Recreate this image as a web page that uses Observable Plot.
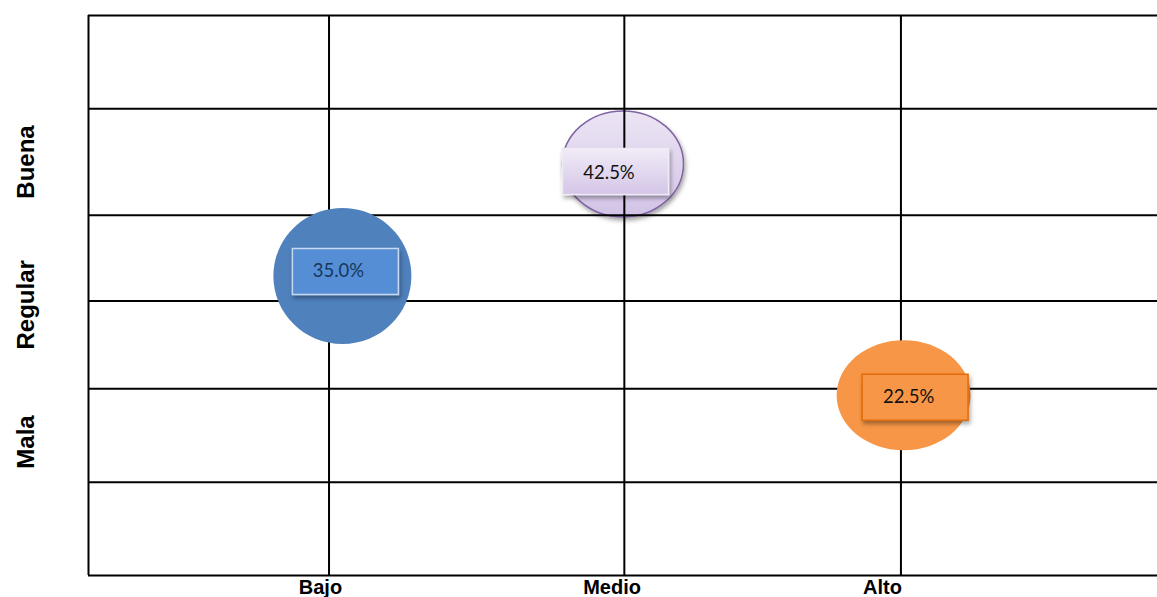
<!DOCTYPE html>
<html>
<head>
<meta charset="utf-8">
<script src="https://cdn.jsdelivr.net/npm/d3@7"></script>
<script src="https://cdn.jsdelivr.net/npm/@observablehq/plot@0.6"></script>
<style>
  html, body { margin: 0; padding: 0; background: #fff; }
  #chart svg { display: block; }
</style>
</head>
<body>
<div id="chart"></div>
<script>
// ---- data (chart units) ----
const categories = ["Bajo", "Medio", "Alto"];
const categoryLineX = [0.9, 2.005, 3.04];      // column lines
const categoryLabelX = [0.868, 1.959, 2.971];  // label centres
const ratings = ["Buena", "Regular", "Mala"];
const ratingLabelY = [4.43, 2.9, 1.43];
const gridY = [0, 1, 2, 2.94, 3.86, 5, 6];
const gridX = [0, ...categoryLineX];

const bubbleCategory = ["Medio", "Bajo", "Alto"];
const bubbleRating = ["Buena", "Regular", "Mala"];
const bubbleX = [2.0, 0.95, 3.05];
const bubbleY = [4.41, 3.21, 1.93];
const bubblePct = [42.5, 35.0, 22.5];

// ---- styles ----
const bubbleStyle = [
  {rx: 60.5, ry: 53, fill: "url(#purpleFill)", stroke: "#8064a2", boxFill: "url(#purpleBox)", boxStroke: "#efeaf5",
   text: "#111", boxDx: -7.5, boxDy: 7.5, textDx: -14, textDy: 9, under: true, shadow: true},
  {rx: 69, ry: 68, fill: "#4f81bd", stroke: "none", boxFill: "#558ed5", boxStroke: "#c6d9f1",
   text: "#17375e", boxDx: 3, boxDy: -4.5, textDx: -4, textDy: -4.5, under: false, shadow: false},
  {rx: 67, ry: 55, fill: "#f79646", stroke: "none", boxFill: "#f79646", boxStroke: "#e46c0a",
   text: "#111", boxDx: 11.5, boxDy: 2, textDx: 5, textDy: 2, under: false, shadow: false}
];

const bubbles = bubbleCategory.map((c, i) => ({
  category: c, rating: bubbleRating[i], x: bubbleX[i], y: bubbleY[i], pct: bubblePct[i]
}));

function ellipseSymbol(rx, ry) {
  const k = 0.5522848;
  return {
    draw(ctx) {
      ctx.moveTo(rx, 0);
      ctx.bezierCurveTo(rx, ry * k, rx * k, ry, 0, ry);
      ctx.bezierCurveTo(-rx * k, ry, -rx, ry * k, -rx, 0);
      ctx.bezierCurveTo(-rx, -ry * k, -rx * k, -ry, 0, -ry);
      ctx.bezierCurveTo(rx * k, -ry, rx, -ry * k, rx, 0);
      ctx.closePath();
    }
  };
}
function rectSymbol(w, h) {
  return {
    draw(ctx) {
      ctx.moveTo(-w / 2, -h / 2);
      ctx.lineTo(w / 2, -h / 2);
      ctx.lineTo(w / 2, h / 2);
      ctx.lineTo(-w / 2, h / 2);
      ctx.closePath();
    }
  };
}

const bubbleMark = (i) => Plot.dot([bubbles[i]], {
  x: "x", y: "y", r: bubbleStyle[i].rx,
  symbol: ellipseSymbol(bubbleStyle[i].rx, bubbleStyle[i].ry),
  fill: bubbleStyle[i].fill, stroke: bubbleStyle[i].stroke, strokeWidth: 1.5,
  ariaDescription: "bubble-" + i
});
const boxMark = (i) => Plot.dot([bubbles[i]], {
  x: "x", y: "y", r: 50,
  symbol: rectSymbol(106, 46),
  dx: bubbleStyle[i].boxDx, dy: bubbleStyle[i].boxDy,
  fill: bubbleStyle[i].boxFill, stroke: bubbleStyle[i].boxStroke, strokeWidth: 1.5,
  ariaDescription: "box-" + i
});
const labelMark = (i) => Plot.text([bubbles[i]], {
  x: "x", y: "y", text: d => d.pct.toFixed(1) + "%",
  dx: bubbleStyle[i].textDx, dy: bubbleStyle[i].textDy,
  fill: bubbleStyle[i].text, fontSize: 18.5, fontFamily: "Lato, 'Open Sans', sans-serif"
});

const idx = bubbles.map((_, i) => i);

const chart = Plot.plot({
  width: 1157,
  height: 597,
  marginLeft: 88,
  marginRight: 0,
  marginTop: 15,
  marginBottom: 22,
  x: {domain: [0, 4], axis: null},
  y: {domain: [0, 6], axis: null},
  style: {background: "#fff", overflow: "visible", fontFamily: "'Liberation Sans', Arial, sans-serif"},
  marks: [
    ...idx.filter(i => bubbleStyle[i].under).map(bubbleMark),
    Plot.ruleX(gridX, {x: d => d, y1: 0, y2: 6, stroke: "#000", strokeWidth: 2}),
    Plot.ruleY(gridY, {y: d => d, x1: 0, x2: 4, stroke: "#000", strokeWidth: 2}),
    ...idx.filter(i => !bubbleStyle[i].under).map(bubbleMark),
    ...idx.map(boxMark),
    ...idx.map(labelMark),
    Plot.text(categories, {
      x: (d, i) => categoryLabelX[i], frameAnchor: "bottom", text: d => d,
      lineAnchor: "bottom", dy: 18, fontSize: 20, fontWeight: "bold", fill: "#000"
    }),
    Plot.text(ratings, {
      y: (d, i) => ratingLabelY[i], frameAnchor: "left", textAnchor: "middle", text: d => d,
      rotate: -90, lineAnchor: "bottom", dx: -55, fontSize: 24, fontWeight: "bold", fill: "#000"
    })
  ]
});

const svg = d3.select(chart);
const defs = svg.insert("defs", ":first-child");
const g1 = defs.append("linearGradient").attr("id", "purpleFill").attr("x1", 0).attr("y1", 0).attr("x2", 0).attr("y2", 1);
g1.append("stop").attr("offset", "0%").attr("stop-color", "#ece5f4");
g1.append("stop").attr("offset", "100%").attr("stop-color", "#d2c3e6");
const g2 = defs.append("linearGradient").attr("id", "purpleBox").attr("x1", 0).attr("y1", 0).attr("x2", 0).attr("y2", 1);
g2.append("stop").attr("offset", "0%").attr("stop-color", "#f1ecf7");
g2.append("stop").attr("offset", "100%").attr("stop-color", "#d4c5e7");
const f = defs.append("filter").attr("id", "shadow").attr("x", "-20%").attr("y", "-20%").attr("width", "150%").attr("height", "160%");
f.append("feDropShadow").attr("dx", 1.5).attr("dy", 3).attr("stdDeviation", 2).attr("flood-color", "#000").attr("flood-opacity", 0.35);

svg.selectAll("[aria-description^='box-']").attr("filter", "url(#shadow)");
idx.forEach(i => {
  if (bubbleStyle[i].shadow) svg.selectAll(`[aria-description='bubble-${i}']`).attr("filter", "url(#shadow)");
});

document.getElementById("chart").appendChild(chart);
</script>
</body>
</html>
